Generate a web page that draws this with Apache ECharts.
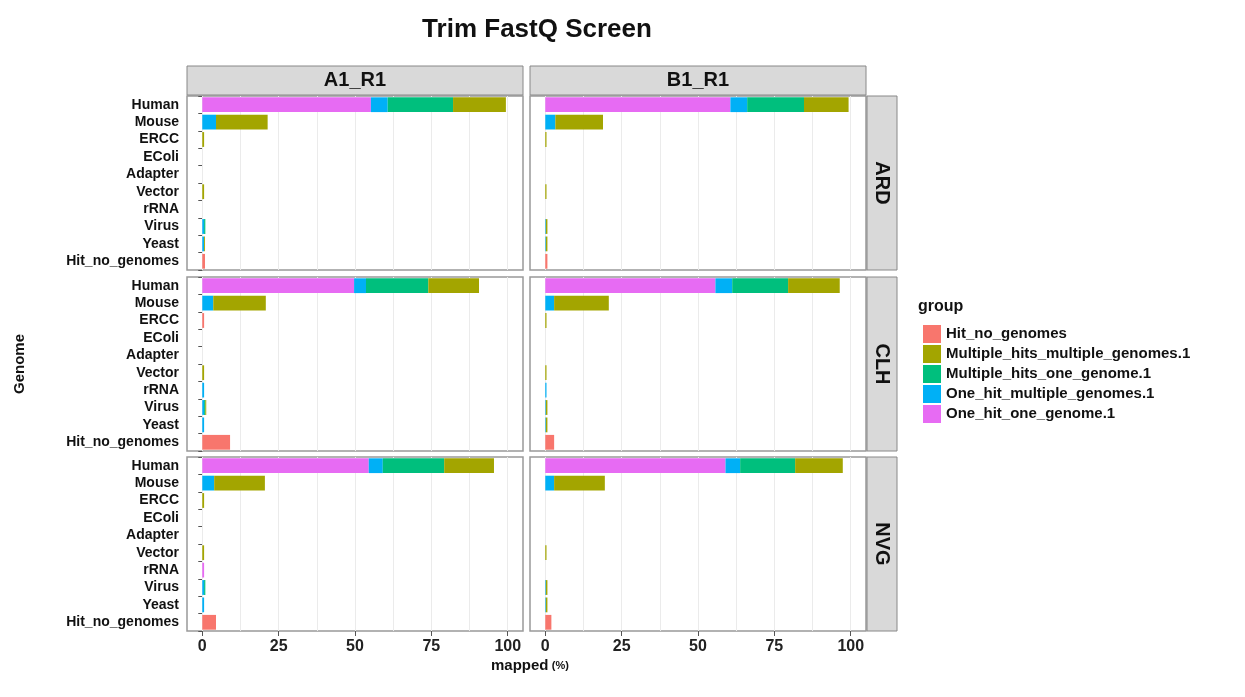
<!DOCTYPE html>
<html><head><meta charset="utf-8">
<script src="https://cdn.jsdelivr.net/npm/echarts@6/dist/echarts.min.js"></script>
<style>html,body{margin:0;padding:0;background:#fff}#c{width:1245px;height:697px}</style>
</head><body><div id="c"></div>
<script>
const categories = ['Human','Mouse','ERCC','EColi','Adapter','Vector','rRNA','Virus','Yeast','Hit_no_genomes'];
const columns = ['A1_R1','B1_R1'];
const rows = ['ARD','CLH','NVG'];
const xTicks = [0,25,50,75,100];
// panel order: A_ARD, A_CLH, A_NVG, B_ARD, B_CLH, B_NVG
const oneHitOne = [
 [55.2,0,0,0,0,0,0,0,0,0],[49.7,0,0,0,0,0,0,0,0,0],[54.5,0,0,0,0,0,0.6,0,0,0],
 [60.6,0,0,0,0,0,0,0,0,0],[55.7,0,0,0,0,0,0,0,0,0],[59.0,0,0,0,0,0,0,0,0,0]];
const oneHitMulti = [
 [5.5,4.5,0,0,0,0,0,0.6,0.6,0],[3.9,3.6,0,0,0,0,0.6,0.6,0.6,0],[4.6,3.9,0,0,0,0,0,0.6,0.6,0],
 [5.5,3.3,0,0,0,0,0,0.2,0.2,0],[5.5,2.9,0,0,0,0,0.4,0.2,0.2,0],[4.8,2.9,0,0,0,0,0,0.2,0.2,0]];
const multiOne = [
 [21.4,0,0,0,0,0,0,0.4,0,0],[20.4,0,0,0,0,0,0,0.4,0,0],[20.1,0,0,0,0,0,0,0.4,0,0],
 [18.6,0,0,0,0,0,0,0,0,0],[18.3,0,0,0,0,0,0,0,0,0],[18.0,0,0,0,0,0,0,0,0,0]];
const multiMulti = [
 [17.3,16.9,0.6,0,0,0.6,0,0,0.3,0],[16.6,17.2,0,0,0,0.6,0,0.3,0,0],[16.3,16.6,0.6,0,0,0.6,0,0,0,0],
 [14.6,15.6,0.4,0,0,0.4,0,0.5,0.5,0],[16.9,17.9,0.4,0,0,0.4,0,0.5,0.5,0],[15.6,16.6,0,0,0,0.4,0,0.5,0.5,0]];
const hitNo = [
 [0,0,0,0,0,0,0,0,0,0.9],[0,0,0.6,0,0,0,0,0,0,9.1],[0,0,0,0,0,0,0,0,0,4.5],
 [0,0,0,0,0,0,0,0,0,0.7],[0,0,0,0,0,0,0,0,0,2.9],[0,0,0,0,0,0,0,0,0,2.0]];

const seriesDefs = [
 {name:'One_hit_one_genome.1', data:oneHitOne, color:'#E76BF3'},
 {name:'One_hit_multiple_genomes.1', data:oneHitMulti, color:'#00B0F6'},
 {name:'Multiple_hits_one_genome.1', data:multiOne, color:'#00BF7D'},
 {name:'Multiple_hits_multiple_genomes.1', data:multiMulti, color:'#A3A500'},
 {name:'Hit_no_genomes', data:hitNo, color:'#F8766D'}];

const colX = [187,530], colW = 336;
const rowY = [96,277,457], rowH = 174;
const grids=[], xAxes=[], yAxes=[], series=[], graphics=[];
let p=0;
for(let c=0;c<2;c++){
 for(let r=0;r<3;r++){
  grids.push({left:colX[c], top:rowY[r], width:colW, height:rowH, show:true, backgroundColor:'#fff', borderColor:'#999', borderWidth:1.5});
  xAxes.push({gridIndex:p, type:'value', min:-5, max:105,
    axisLine:{show:false}, splitLine:{show:false},
    axisTick:{show:r===2, customValues:xTicks, lineStyle:{color:'#555'}},
    axisLabel:{show:r===2, customValues:xTicks, color:'#222', fontSize:16, fontWeight:'bold', fontFamily:'Liberation Sans'}});
  yAxes.push({gridIndex:p, type:'category', data:categories, inverse:true,
    axisLine:{show:false}, axisTick:{show:c===0, length:4, lineStyle:{color:'#555'}},
    axisLabel:{show:c===0, color:'#111', fontSize:14, fontWeight:'bold', fontFamily:'Liberation Sans', margin:8, interval:0}});
  series.push({type:'line', xAxisIndex:p, yAxisIndex:p, data:[], z:1, silent:true,
    markLine:{silent:true, symbol:'none', label:{show:false}, animation:false,
      lineStyle:{color:'#ebebeb', width:1, type:'solid'},
      data:[0,12.5,25,37.5,50,62.5,75,87.5,100].map(v=>({xAxis:v}))}});
  seriesDefs.forEach((s)=>{
   series.push({name:s.name, type:'bar', stack:'st'+p, xAxisIndex:p, yAxisIndex:p, z:5,
     data:s.data[p], barWidth:'85%', itemStyle:{color:s.color}, silent:true});
  });
  p++;
 }
}
columns.forEach((t,c)=>{
 graphics.push({type:'rect', shape:{x:colX[c], y:66, width:colW, height:29}, style:{fill:'#d9d9d9', stroke:'#888', lineWidth:1}});
 graphics.push({type:'text', x:colX[c]+colW/2, y:80, style:{text:t, fill:'#111', font:'bold 20px Liberation Sans', align:'center', verticalAlign:'middle'}});
});
rows.forEach((t,r)=>{
 graphics.push({type:'rect', shape:{x:867, y:rowY[r], width:30, height:rowH}, style:{fill:'#d9d9d9', stroke:'#888', lineWidth:1}});
 graphics.push({type:'text', x:882, y:rowY[r]+rowH/2, rotation:-Math.PI/2, style:{text:t, fill:'#111', font:'bold 20px Liberation Sans', align:'center', verticalAlign:'middle'}});
});
graphics.push({type:'text', x:20, y:364, rotation:Math.PI/2, style:{text:'Genome', fill:'#111', font:'bold 15px Liberation Sans', align:'center', verticalAlign:'middle'}});
graphics.push({type:'text', x:530, y:666, style:{text:'{a|mapped} {b|(%)}', rich:{a:{font:'bold 15px Liberation Sans', fill:'#111'}, b:{font:'bold 11px Liberation Sans', fill:'#111'}}, align:'center', verticalAlign:'middle'}});
graphics.push({type:'text', x:918, y:307, style:{text:'group', fill:'#111', font:'bold 16px Liberation Sans', verticalAlign:'middle'}});

const chart = echarts.init(document.getElementById('c'));
chart.setOption({
 animation:false,
 title:{text:'Trim FastQ Screen', left:532, top:12, textAlign:'center', textStyle:{fontSize:26, fontWeight:'bold', color:'#111', fontFamily:'Liberation Sans'}},
 legend:{orient:'vertical', left:918, top:320, itemWidth:18, itemHeight:18, itemGap:2, icon:'rect',
   data:['Hit_no_genomes','Multiple_hits_multiple_genomes.1','Multiple_hits_one_genome.1','One_hit_multiple_genomes.1','One_hit_one_genome.1'],
   textStyle:{fontSize:15, fontWeight:'bold', color:'#111', fontFamily:'Liberation Sans'}, selectedMode:false},
 grid:grids, xAxis:xAxes, yAxis:yAxes, series:series, graphic:graphics
});
</script></body></html>
